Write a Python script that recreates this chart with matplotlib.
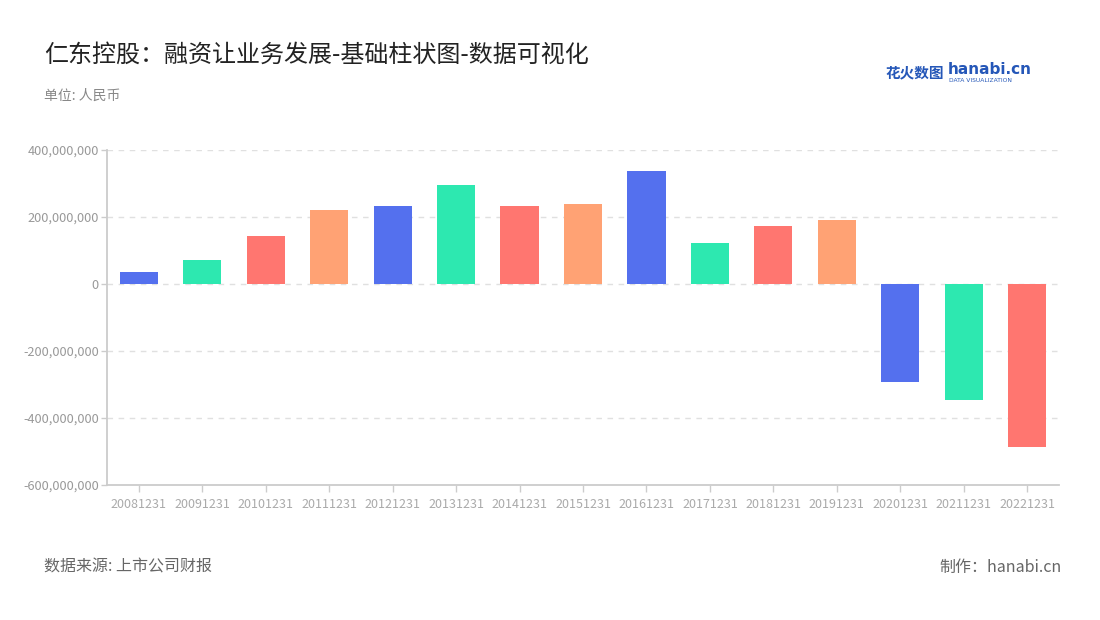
import matplotlib
matplotlib.use("Agg")
import matplotlib.pyplot as plt
from matplotlib.ticker import FuncFormatter

plt.rcParams['font.family'] = ['Noto Sans CJK SC', 'DejaVu Sans']

categories = ["20081231", "20091231", "20101231", "20111231", "20121231", "20131231",
              "20141231", "20151231", "20161231", "20171231", "20181231", "20191231",
              "20201231", "20211231", "20221231"]
values = [36e6, 72e6, 143e6, 221e6, 233e6, 296e6, 233e6, 239e6, 337e6, 121e6,
          174e6, 191e6, -292e6, -346e6, -486e6]
palette = ['#5470ee', '#2de8b0', '#ff7670', '#ffa274']
yticks = [-600e6, -400e6, -200e6, 0, 200e6, 400e6]

fig = plt.figure(figsize=(11, 6.2), dpi=100)
ax = fig.add_axes([107/1100, 1-485/620, (1059-107)/1100, (485-150)/620])

colors = [palette[i % 4] for i in range(len(values))]
x = list(range(len(categories)))
ax.bar(x, values, width=0.6, color=colors, zorder=3)

ax.set_xlim(-0.5, len(categories) - 0.5)
ax.set_ylim(-600e6, 400e6)
ax.set_yticks(yticks)
ax.yaxis.set_major_formatter(FuncFormatter(lambda v, p: f"{int(v):,}"))
ax.set_xticks(x)
ax.set_xticklabels(categories)

ax.grid(axis='y', color='#e0e0e0', linestyle=(0, (4, 4)), linewidth=1, zorder=0)
for s in ['top', 'right']:
    ax.spines[s].set_visible(False)
for s in ['left', 'bottom']:
    ax.spines[s].set_color('#cccccc')
    ax.spines[s].set_linewidth(1.3)
ax.tick_params(axis='y', colors='#cccccc', labelcolor='#999999', labelsize=9.2, length=4, width=1, pad=2)
ax.tick_params(axis='x', colors='#cccccc', labelcolor='#aaaaaa', labelsize=9, length=5, width=1, pad=4)

fig.text(44/1100, 1-55/620, "仁东控股：融资让业务发展-基础柱状图-数据可视化", fontsize=17.3,
         color='#222222', va='center', ha='left')
fig.text(44/1100, 1-96/620, "单位: 人民币", fontsize=10, color='#888888', va='center', ha='left')
fig.text(44/1100, 1-567/620, "数据来源: 上市公司财报", fontsize=11.5, color='#666666', va='center', ha='left')
fig.text(1062/1100, 1-567/620, "制作：hanabi.cn", fontsize=11.5, color='#666666', va='center', ha='right')

# logo
fig.text(944/1100, 1-72/620, "花火数图", fontsize=10.5, color='#2557b8', fontweight='bold',
         va='center', ha='right')
fig.text(948/1100, 1-69/620, "hanabi.cn", fontsize=11, color='#2557b8', fontweight='bold',
         va='center', ha='left', family=['DejaVu Sans'])
fig.text(949/1100, 1-80/620, "DATA VISUALIZATION", fontsize=4.3, color='#2557b8',
         va='center', ha='left', family=['DejaVu Sans'])

fig.savefig("out.png", dpi=100, facecolor='white')
